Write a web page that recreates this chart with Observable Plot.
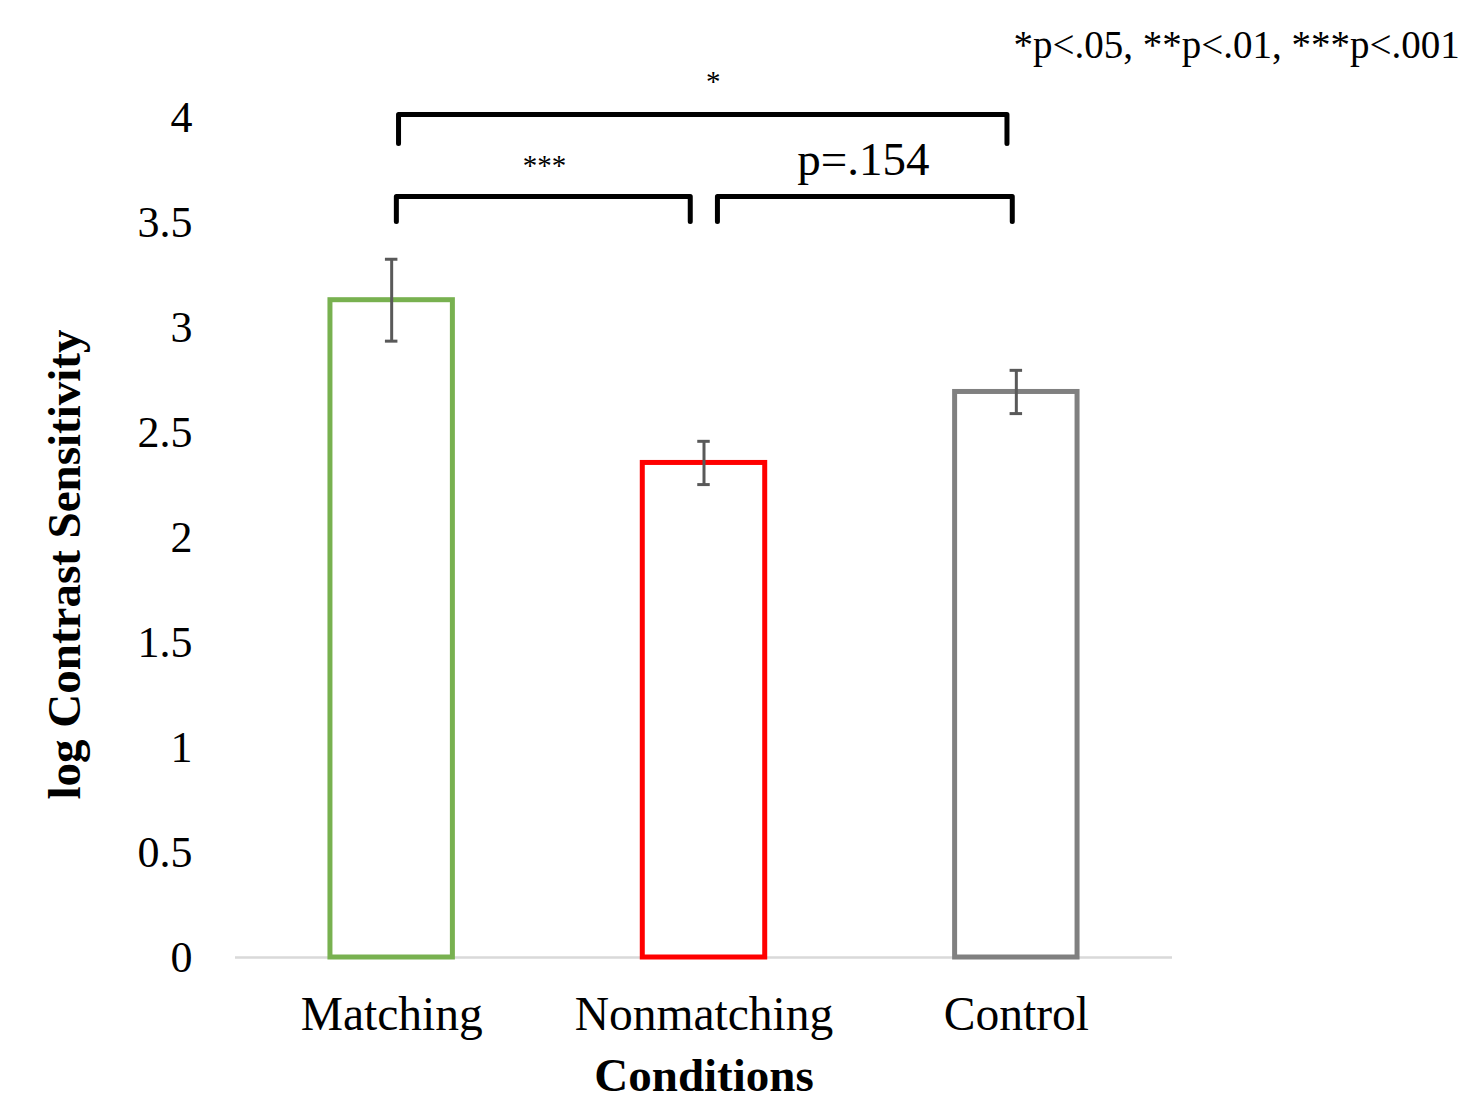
<!DOCTYPE html>
<html>
<head>
<meta charset="utf-8">
<script src="https://cdn.jsdelivr.net/npm/d3@7"></script>
<script src="https://cdn.jsdelivr.net/npm/@observablehq/plot@0.6"></script>
<style>
  html, body { margin: 0; padding: 0; background: #fff; }
  #chart svg { overflow: visible; }
</style>
</head>
<body>
<div id="chart"></div>
<script>
// ---- data ----
const categories = ["Matching", "Nonmatching", "Control"];
const means = [3.13, 2.355, 2.693];
const errors = [0.195, 0.103, 0.103];
const barColors = ["#78b150", "#ff0000", "#808080"];
const yTicks = [0, 0.5, 1, 1.5, 2, 2.5, 3, 3.5, 4];

// significance brackets: start/end in category units, top level and leg bottom in y units
const bracketFrom = [0.022, 0.015, 1.043];
const bracketTo = [1.970, 0.956, 1.987];
const bracketTop = [4.014, 3.624, 3.624];
const bracketLeg = [3.876, 3.505, 3.505];
const sigLabels = ["*", "***", "p=.154"];
const sigX = [1.03, 0.489, 1.51];
const sigY = [4.128, 3.724, 3.724];
const sigNote = "*p<.05, **p<.01, ***p<.001";

// ---- derived tables ----
const bars = categories.map((c, i) => ({i, c, mean: means[i], err: errors[i], color: barColors[i]}));
const brackets = bracketFrom.flatMap((f, k) => [
  {k, x: f, y: bracketLeg[k]},
  {k, x: f, y: bracketTop[k]},
  {k, x: bracketTo[k], y: bracketTop[k]},
  {k, x: bracketTo[k], y: bracketLeg[k]}
]);
const sig = sigLabels.map((t, k) => ({t, x: sigX[k], y: sigY[k], big: t.startsWith("p")}));

const font = "'Liberation Serif', 'Times New Roman', serif";
const half = 0.196, cap = 0.02;

const chart = Plot.plot({
  width: 1461,
  height: 1107,
  marginLeft: 235,
  marginRight: 289,
  marginTop: 117,
  marginBottom: 150,
  style: {fontFamily: font, color: "#000", background: "#fff"},
  x: {domain: [-0.5, 2.5], axis: null},
  y: {domain: [0, 4], axis: null},
  color: {type: "identity"},
  marks: [
    Plot.axisY({ticks: yTicks, tickFormat: d => String(d), tickSize: 0, tickPadding: 43, fontSize: 44, label: null}),
    Plot.axisX({ticks: [0, 1, 2], tickFormat: i => categories[i], tickSize: 0, tickPadding: 39, fontSize: 47.5, label: null}),
    Plot.ruleY([0], {stroke: "#d9d9d9", strokeWidth: 2.5}),
    Plot.rect(bars, {x1: d => d.i - half, x2: d => d.i + half, y1: 0, y2: "mean", fill: "#fff", stroke: "color", strokeWidth: 5}),
    Plot.ruleX(bars, {x: "i", y1: d => d.mean - d.err, y2: d => d.mean + d.err, stroke: "#595959", strokeWidth: 3}),
    Plot.ruleY(bars, {y: d => d.mean - d.err, x1: d => d.i - cap, x2: d => d.i + cap, stroke: "#595959", strokeWidth: 3}),
    Plot.ruleY(bars, {y: d => d.mean + d.err, x1: d => d.i - cap, x2: d => d.i + cap, stroke: "#595959", strokeWidth: 3}),
    Plot.line(brackets, {x: "x", y: "y", z: "k", stroke: "#000", strokeWidth: 5, strokeLinejoin: "round", clip: false}),
    Plot.text(sig.filter(d => !d.big), {x: "x", y: "y", text: "t", fontSize: 29, lineAnchor: "bottom", fill: "#000"}),
    Plot.text(sig.filter(d => d.big), {x: "x", y: "y", text: "t", fontSize: 47, lineAnchor: "bottom", fill: "#000"}),
    Plot.text([sigNote], {frameAnchor: "top-right", textAnchor: "start", lineAnchor: "bottom", dx: -159, dy: -60, fontSize: 39, fill: "#000"}),
    Plot.text(["Conditions"], {frameAnchor: "bottom", lineAnchor: "bottom", dy: 133, fontSize: 47, fontWeight: "bold", fill: "#000"}),
    Plot.text(["log Contrast Sensitivity"], {frameAnchor: "left", rotate: -90, textAnchor: "middle", lineAnchor: "bottom", dx: -156, dy: 27, fontSize: 47, fontWeight: "bold", fill: "#000"})
  ]
});
document.getElementById("chart").appendChild(chart);
</script>
</body>
</html>
